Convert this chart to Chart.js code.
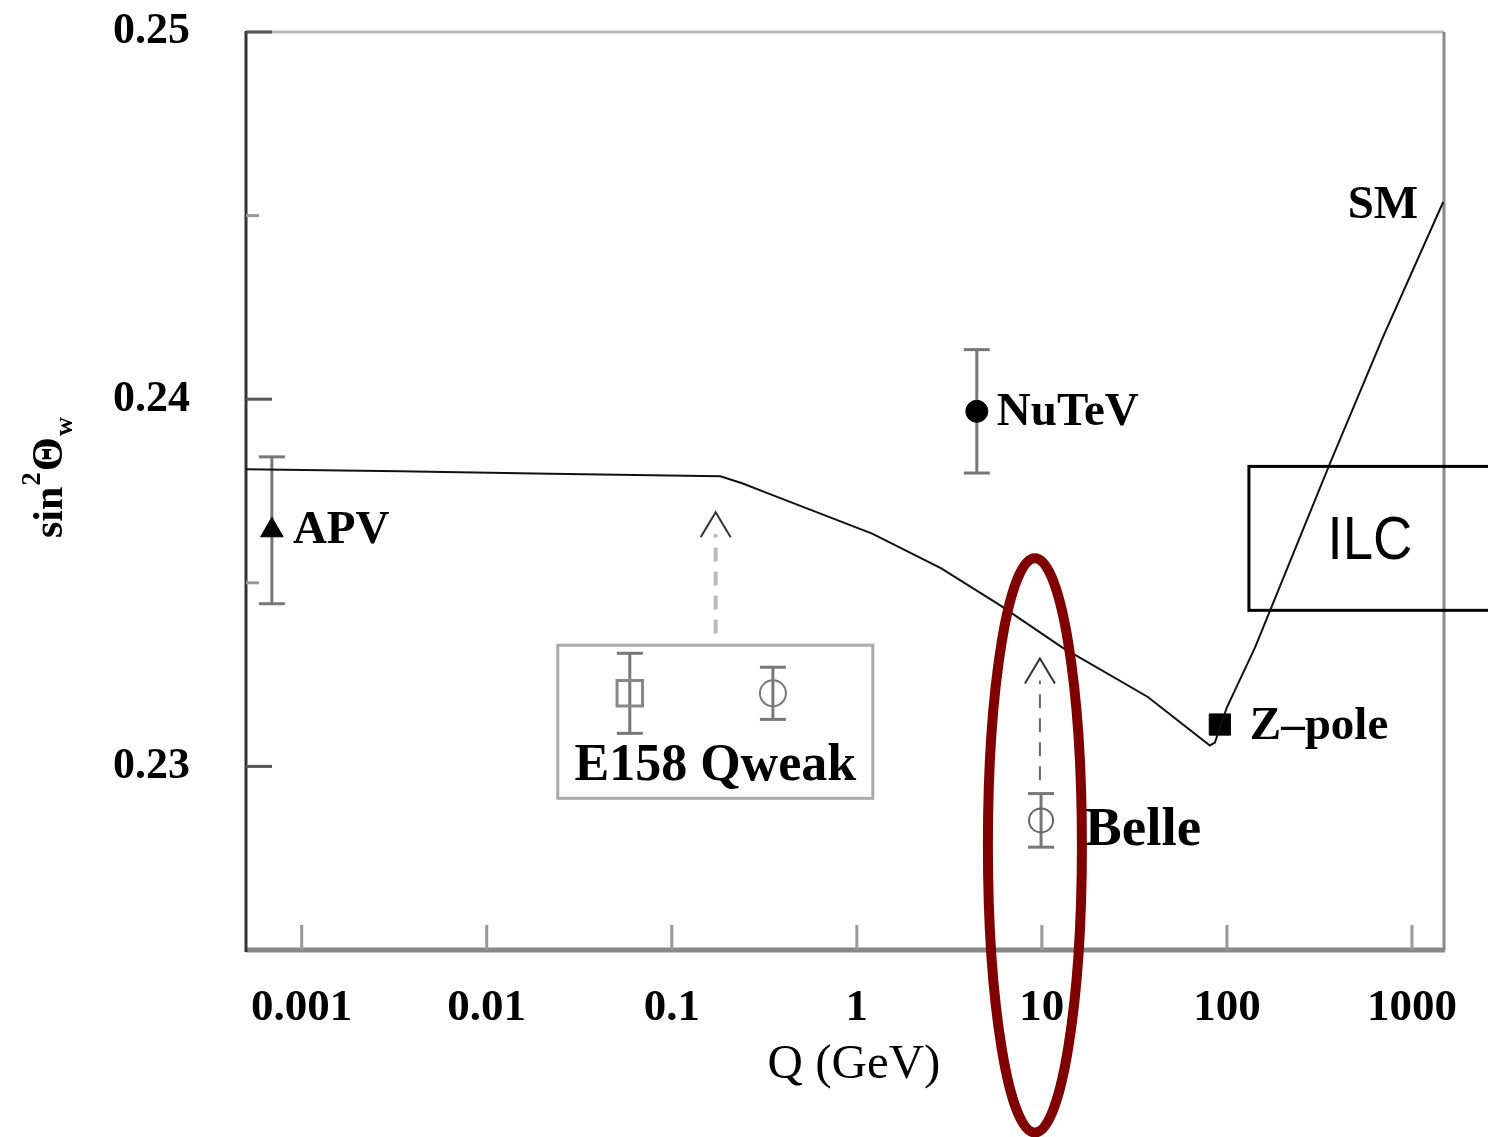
<!DOCTYPE html>
<html lang="en">
<head>
<meta charset="UTF-8">
<title>Running of sin2 theta W</title>
<script src="https://cdn.jsdelivr.net/npm/chart.js"></script>
<style>
  body { margin: 0; background: #fff; }
  .chart-box { width: 1488px; height: 1137px; position: relative; }
</style>
</head>
<body>
<div class="chart-box"><canvas id="weakChart"></canvas></div>
<script>
// Standard Model running curve (Q in GeV, sin^2 theta_W)
const smQ = [0.0005, 0.0034, 0.022, 0.183, 0.24, 0.334, 1.21, 2.86, 5.93, 12.8, 37.4, 80.9, 86.1, 100, 142, 361, 697, 1475];
const smS = [0.23809, 0.23804, 0.23797, 0.23790, 0.23771, 0.23743, 0.23634, 0.23539, 0.23439, 0.23325, 0.23189, 0.23057, 0.23065, 0.23161, 0.23324, 0.23826, 0.24169, 0.24537];

// measurements and projections
const expNames = ['APV', 'NuTeV', 'Z\u2013pole', 'Belle', 'E158', 'Qweak'];
const expQ = [0.00069, 4.45, 91.6, 9.9, 0.0593, 0.352];
const expS = [0.23643, 0.23967, 0.23114, 0.22853, 0.23199, 0.23199];
const expErr = [0.0020, 0.00168, 0, 0.00073, 0.00109, 0.00071];

// axis ticks
const xTickValues = [0.001, 0.01, 0.1, 1, 10, 100, 1000];
const xTickLabels = ['0.001', '0.01', '0.1', '1', '10', '100', '1000'];
const yTickValues = [0.23, 0.24, 0.25];
const yTickLabels = ['0.23', '0.24', '0.25'];
const yMinorTicks = [0.235, 0.245];

// annotations (data coordinates)
const arrowQ = [0.1726, 9.76];
const arrowFrom = [0.23362, 0.22962];
const arrowTo = [0.23692, 0.23294];
const legendBoxQ = [0.0242, 1.22];
const legendBoxS = [0.22913, 0.23330];
const ilcBoxQ = 131.5;
const ilcBoxS = [0.23425, 0.23817];
const ilcTextAt = [593, 0.23616];
const belleEllipse = [9.17, 0.22785];   // centre
const belleEllipseHalf = [0.254, 0.00782]; // half width (decades), half height

const SERIF = '"Liberation Serif", "DejaVu Serif", serif';

const styles = {
  'APV':        { pointStyle: 'triangle', pointRadius: 13, backgroundColor: '#000', borderColor: '#000', borderWidth: 1 },
  'NuTeV':      { pointStyle: 'circle', pointRadius: 11, backgroundColor: '#000', borderColor: '#000', borderWidth: 1 },
  'Z\u2013pole':{ pointStyle: 'rect', pointRadius: 15, backgroundColor: '#000', borderColor: '#000', borderWidth: 1 },
  'Belle':      { pointStyle: 'circle', pointRadius: 12, backgroundColor: 'rgba(0,0,0,0)', borderColor: '#666', borderWidth: 2 },
  'E158':       { pointStyle: 'rect', pointRadius: 18, backgroundColor: 'rgba(0,0,0,0)', borderColor: '#888', borderWidth: 3 },
  'Qweak':      { pointStyle: 'circle', pointRadius: 13, backgroundColor: 'rgba(0,0,0,0)', borderColor: '#777', borderWidth: 2 }
};

const datasets = [{
  label: 'SM',
  data: smQ.map((q, i) => ({ x: q, y: smS[i] })),
  showLine: true,
  borderColor: '#111',
  borderWidth: 2,
  pointRadius: 0,
  tension: 0
}];
expNames.forEach((name, i) => {
  datasets.push(Object.assign({
    label: name,
    data: [{ x: expQ[i], y: expS[i] }]
  }, styles[name]));
});

function seg(ctx, x1, y1, x2, y2) {
  ctx.beginPath();
  ctx.moveTo(x1, y1);
  ctx.lineTo(x2, y2);
  ctx.stroke();
}

const overlay = {
  id: 'overlay',
  beforeDatasetsDraw(chart) {
    const { ctx, chartArea: a, scales: { x, y } } = chart;
    ctx.save();
    // frame
    ctx.lineWidth = 3;
    ctx.strokeStyle = '#bbb';
    seg(ctx, a.left, a.top, a.right, a.top);
    ctx.strokeStyle = '#888';
    seg(ctx, a.right, a.top, a.right, a.bottom);
    ctx.lineWidth = 5;
    seg(ctx, a.left, a.bottom, a.right + 1, a.bottom);
    ctx.strokeStyle = '#333';
    ctx.lineWidth = 3;
    seg(ctx, a.left, a.top - 1, a.left, a.bottom + 2);

    // inward ticks
    ctx.lineWidth = 3;
    ctx.strokeStyle = '#555';
    yTickValues.forEach(v => seg(ctx, a.left, y.getPixelForValue(v), a.left + 26, y.getPixelForValue(v)));
    ctx.strokeStyle = '#999';
    yMinorTicks.forEach(v => seg(ctx, a.left, y.getPixelForValue(v), a.left + 13, y.getPixelForValue(v)));
    ctx.strokeStyle = '#999';
    xTickValues.forEach(v => seg(ctx, x.getPixelForValue(v), a.bottom, x.getPixelForValue(v), a.bottom - 25));

    // legend box for E158 / Qweak
    ctx.strokeStyle = '#aaa';
    ctx.lineWidth = 3;
    const bx1 = x.getPixelForValue(legendBoxQ[0]), bx2 = x.getPixelForValue(legendBoxQ[1]);
    const by1 = y.getPixelForValue(legendBoxS[1]), by2 = y.getPixelForValue(legendBoxS[0]);
    ctx.strokeRect(bx1, by1, bx2 - bx1, by2 - by1);

    // error bars
    ctx.strokeStyle = '#777';
    ctx.lineWidth = 3;
    expNames.forEach((n, i) => {
      if (!expErr[i]) return;
      const px = x.getPixelForValue(expQ[i]);
      const top = y.getPixelForValue(expS[i] + expErr[i]);
      const bot = y.getPixelForValue(expS[i] - expErr[i]);
      seg(ctx, px, top, px, bot);
      seg(ctx, px - 13, top, px + 13, top);
      seg(ctx, px - 13, bot, px + 13, bot);
    });

    // dashed arrows
    arrowQ.forEach((q, i) => {
      const px = x.getPixelForValue(q);
      const y0 = y.getPixelForValue(arrowFrom[i]);
      const y1 = y.getPixelForValue(arrowTo[i]);
      ctx.setLineDash([14, 10]);
      ctx.strokeStyle = i === 0 ? '#bbb' : '#666';
      ctx.lineWidth = i === 0 ? 4 : 2;
      seg(ctx, px, y0, px, y1 + 22);
      ctx.setLineDash([]);
      ctx.strokeStyle = '#333';
      ctx.lineWidth = 2;
      ctx.beginPath();
      ctx.moveTo(px - 15, y1 + 25);
      ctx.lineTo(px, y1);
      ctx.lineTo(px + 15, y1 + 25);
      ctx.stroke();
    });
    ctx.restore();
  },
  afterDraw(chart) {
    const { ctx, chartArea: a, scales: { x, y } } = chart;
    ctx.save();
    ctx.fillStyle = '#000';
    ctx.textAlign = 'left';
    ctx.textBaseline = 'alphabetic';

    const pos = i => [x.getPixelForValue(expQ[i]), y.getPixelForValue(expS[i])];
    ctx.font = 'bold 47px ' + SERIF;
    let p = pos(0); ctx.fillText('APV', p[0] + 21, p[1] + 13);
    p = pos(1); ctx.fillText('NuTeV', p[0] + 20, p[1] + 14);
    p = pos(2); ctx.fillText('Z\u2013pole', p[0] + 30, p[1] + 14);
    ctx.font = 'bold 55px ' + SERIF;
    p = pos(3); ctx.fillText('Belle', p[0] + 44, p[1] + 25);

    // SM label near curve end
    ctx.font = 'bold 47px ' + SERIF;
    ctx.textAlign = 'right';
    const ex = x.getPixelForValue(smQ[smQ.length - 1]);
    const ey = y.getPixelForValue(smS[smS.length - 1]);
    ctx.fillText('SM', ex - 25, ey + 16);

    // E158 Qweak legend text
    ctx.textAlign = 'center';
    ctx.font = 'bold 52px ' + SERIF;
    const bx1 = x.getPixelForValue(legendBoxQ[0]), bx2 = x.getPixelForValue(legendBoxQ[1]);
    ctx.fillText('E158 Qweak', (bx1 + bx2) / 2, y.getPixelForValue(legendBoxS[0]) - 18);

    // x-axis title
    ctx.font = '49px ' + SERIF;
    ctx.fillText('Q (GeV)', (a.left + a.right) / 2 + 9, a.bottom + 128);

    // ILC box
    const ix = x.getPixelForValue(ilcBoxQ);
    const iy1 = y.getPixelForValue(ilcBoxS[1]), iy2 = y.getPixelForValue(ilcBoxS[0]);
    ctx.strokeStyle = '#000';
    ctx.lineWidth = 3;
    ctx.strokeRect(ix, iy1, chart.width + 20 - ix, iy2 - iy1);
    ctx.save();
    ctx.translate(x.getPixelForValue(ilcTextAt[0]), y.getPixelForValue(ilcTextAt[1]));
    ctx.scale(0.88, 1);
    ctx.font = '62px "Liberation Sans", Arial, sans-serif';
    ctx.textBaseline = 'middle';
    ctx.fillText('ILC', 0, 2);
    ctx.restore();

    // Belle ellipse
    const cx = x.getPixelForValue(belleEllipse[0]);
    const cy = y.getPixelForValue(belleEllipse[1]);
    const rx = x.getPixelForValue(belleEllipse[0] * Math.pow(10, belleEllipseHalf[0])) - cx;
    const ry = y.getPixelForValue(belleEllipse[1] - belleEllipseHalf[1]) - cy;
    ctx.strokeStyle = '#800000';
    ctx.lineWidth = 10;
    ctx.beginPath();
    ctx.ellipse(cx, cy, rx, ry, 0, 0, Math.PI * 2);
    ctx.stroke();

    // y-axis title: sin^2 Theta_w
    ctx.translate(62, 538);
    ctx.rotate(-Math.PI / 2);
    ctx.textAlign = 'left';
    ctx.textBaseline = 'alphabetic';
    let cxp = 0;
    ctx.font = 'bold 42px ' + SERIF;
    ctx.fillText('sin', cxp, 0); cxp += ctx.measureText('sin').width + 1;
    ctx.font = 'bold 27px ' + SERIF;
    ctx.fillText('2', cxp, -22); cxp += ctx.measureText('2').width + 1;
    ctx.font = 'bold 44px ' + SERIF;
    ctx.fillText('\u0398', cxp, 0); cxp += ctx.measureText('\u0398').width + 1;
    ctx.font = 'bold 26px ' + SERIF;
    ctx.fillText('w', cxp, 10);
    ctx.restore();
  }
};

function noEdgePadding(s) {
  s.paddingTop = 0;
  s.paddingBottom = 0;
  s.paddingLeft = 0;
  s.paddingRight = 0;
}

new Chart(document.getElementById('weakChart').getContext('2d'), {
  type: 'scatter',
  data: { datasets: datasets },
  plugins: [overlay],
  options: {
    responsive: true,
    maintainAspectRatio: false,
    animation: false,
    layout: { padding: { top: 32, right: 44, left: 0, bottom: 0 } },
    plugins: { legend: { display: false }, tooltip: { enabled: false } },
    scales: {
      x: {
        type: 'logarithmic',
        min: 0.0005,
        max: 1490,
        grid: { display: false, drawTicks: false },
        border: { display: false },
        afterBuildTicks: s => { s.ticks = xTickValues.map(v => ({ value: v })); },
        afterFit: s => { s.height = 187; noEdgePadding(s); },
        ticks: {
          autoSkip: false,
          maxRotation: 0,
          padding: 31,
          color: '#000',
          font: { family: SERIF, size: 45, weight: 'bold' },
          callback: v => {
            const k = xTickValues.findIndex(t => Math.abs(Math.log10(t) - Math.log10(v)) < 1e-6);
            return k >= 0 ? xTickLabels[k] : '';
          }
        },
        title: { display: false, text: 'Q (GeV)' }
      },
      y: {
        min: 0.225,
        max: 0.25,
        grid: { display: false, drawTicks: false },
        border: { display: false },
        afterBuildTicks: s => { s.ticks = yTickValues.map(v => ({ value: v })); },
        afterFit: s => { s.width = 246; noEdgePadding(s); },
        ticks: {
          padding: 56,
          color: '#000',
          font: { family: SERIF, size: 44, weight: 'bold' },
          callback: v => {
            const k = yTickValues.findIndex(t => Math.abs(t - v) < 1e-9);
            return k >= 0 ? yTickLabels[k] : '';
          }
        }
      }
    }
  }
});
</script>
</body>
</html>
